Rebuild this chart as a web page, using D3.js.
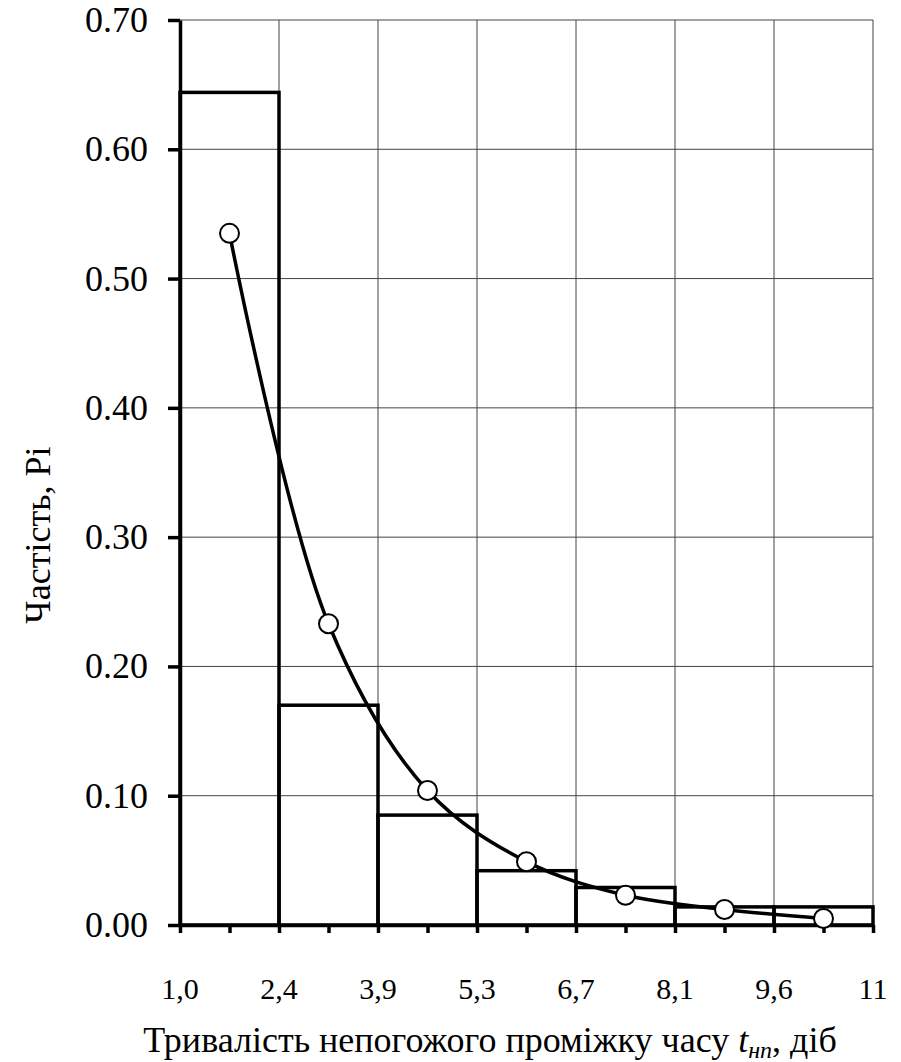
<!DOCTYPE html>
<html>
<head><meta charset="utf-8"><script src='https://d3js.org/d3.v7.min.js'></script></head>
<body style="margin:0">
    <script>
        // bin edge labels (x axis)
        const edgeLabels = ["1,0", "2,4", "3,9", "5,3", "6,7", "8,1", "9,6", "11"];
        // histogram frequencies per bin
        const barValues = [0.644, 0.170, 0.085, 0.042, 0.029, 0.014, 0.014];
        // fitted curve points at bin centers
        const curveValues = [0.535, 0.233, 0.104, 0.049, 0.023, 0.012, 0.005];
        // y axis ticks
        const yTicks = [0, 0.1, 0.2, 0.3, 0.4, 0.5, 0.6, 0.7];

        const width = 901;
        const height = 1062;
        const plotLeft = 180, plotRight = 873, plotTop = 20, plotBottom = 925;
        const serif = "Liberation Serif";

        const svg = d3.select("body")
            .append("svg")
            .attr('width', width)
            .attr('height', height)
            .attr("font-family", serif);

        const x = d3.scaleLinear()
            .domain([0, barValues.length])
            .range([plotLeft, plotRight]);
        const y = d3.scaleLinear()
            .domain([0, 0.7])
            .range([plotBottom, plotTop]);

        // grid
        svg.append("g")
            .selectAll("line")
            .data(yTicks.slice(1))
            .enter()
            .append("line")
            .attr("x1", plotLeft).attr("x2", plotRight)
            .attr("y1", d => y(d)).attr("y2", d => y(d))
            .attr("stroke", "#444")
            .attr("stroke-width", 1);
        svg.append("g")
            .selectAll("line")
            .data(d3.range(1, edgeLabels.length))
            .enter()
            .append("line")
            .attr("x1", d => x(d)).attr("x2", d => x(d))
            .attr("y1", plotTop).attr("y2", plotBottom)
            .attr("stroke", "#444")
            .attr("stroke-width", 1);

        // histogram bars
        svg.append("g")
            .selectAll("rect")
            .data(barValues)
            .enter()
            .append("rect")
            .attr("x", (d, i) => x(i))
            .attr("y", d => y(d))
            .attr("width", x(1) - x(0))
            .attr("height", d => plotBottom - y(d))
            .attr("fill", "none")
            .attr("stroke", "#000")
            .attr("stroke-width", 3.5);

        // y axis
        const yAxis = svg.append("g")
            .attr("transform", `translate(${plotLeft},0)`)
            .call(d3.axisLeft(y).tickValues(yTicks).tickSize(12).tickSizeOuter(0).tickFormat(d3.format(".2f")).tickPadding(20));
        yAxis.select(".domain").attr("stroke-width", 3.5).attr("stroke", "#000");
        yAxis.selectAll(".tick line").attr("stroke-width", 3.5).attr("stroke", "#000");
        yAxis.selectAll(".tick text")
            .attr("fill", "#000")
            .attr("font-family", serif)
            .attr("font-size", 36);

        // x axis (ticks at bin edges and bin centers)
        const xAxis = svg.append("g")
            .attr("transform", `translate(0,${plotBottom})`)
            .call(d3.axisBottom(x)
                .tickValues(d3.range(0, barValues.length + 0.5, 0.5))
                .tickSize(8).tickSizeOuter(0).tickFormat(""));
        xAxis.select(".domain").attr("stroke-width", 3.5).attr("stroke", "#000");
        xAxis.selectAll(".tick line").attr("stroke-width", 3.5).attr("stroke", "#000");

        svg.append("g")
            .selectAll("text")
            .data(edgeLabels)
            .enter()
            .append("text")
            .attr("x", (d, i) => x(i))
            .attr("y", 999)
            .attr("text-anchor", "middle")
            .attr("font-family", serif)
            .attr("font-size", 30)
            .text(d => d);

        // fitted curve
        svg.append("path")
            .datum(curveValues)
            .attr("fill", "none")
            .attr("stroke", "#000")
            .attr("stroke-width", 3.5)
            .attr("d", d3.line()
                .x((d, i) => x(i + 0.5))
                .y(d => y(d))
                .curve(d3.curveCatmullRom.alpha(0.5)));

        svg.append("g")
            .selectAll("circle")
            .data(curveValues)
            .enter()
            .append("circle")
            .attr("cx", (d, i) => x(i + 0.5))
            .attr("cy", d => y(d))
            .attr("r", 9.5)
            .attr("fill", "#fff")
            .attr("stroke", "#000")
            .attr("stroke-width", 2);

        // axis titles
        svg.append("text")
            .attr("transform", "translate(50,535) rotate(-90)")
            .attr("text-anchor", "middle")
            .attr("font-family", serif)
            .attr("font-size", 36)
            .text("Частість, Pi");

        const xt = svg.append("text")
            .attr("x", 490)
            .attr("y", 1052)
            .attr("text-anchor", "middle")
            .attr("font-family", serif)
            .attr("font-size", 36);
        xt.append("tspan").text("Тривалість непогожого проміжку часу ");
        xt.append("tspan").attr("font-style", "italic").text("t");
        xt.append("tspan").attr("font-style", "italic").attr("font-size", 24).attr("dy", 6).text("нп");
        xt.append("tspan").attr("dy", -6).text(", діб");
    </script>
</body>
</html>
